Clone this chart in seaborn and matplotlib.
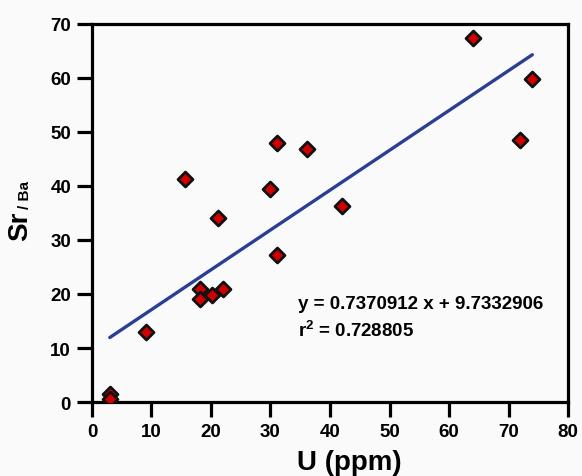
import numpy as np
import pandas as pd
import matplotlib
matplotlib.use("Agg")
import matplotlib.pyplot as plt
import seaborn as sns

# Data
u_ppm = [3, 3, 9, 15.7, 18.2, 18.2, 20.2, 22.0, 21.1, 30.0, 31.1, 31.1, 36.1, 42.0, 64.0, 72.0, 74.0]
sr_ba = [1.4, 0.5, 13.0, 41.3, 21.0, 19.0, 19.9, 21.0, 34.1, 39.5, 47.9, 27.2, 46.8, 36.2, 67.3, 48.5, 59.7]
slope = 0.7370912
intercept = 9.7332906
r2 = 0.728805
x_ticks = [0, 10, 20, 30, 40, 50, 60, 70, 80]
y_ticks = [0, 10, 20, 30, 40, 50, 60, 70]

df = pd.DataFrame({"U": u_ppm, "Sr": sr_ba})

sns.set_theme(style="ticks")
plt.rcParams["font.family"] = ["Liberation Sans", "DejaVu Sans"]
plt.rcParams["mathtext.fontset"] = "custom"
plt.rcParams["mathtext.rm"] = "Liberation Sans:bold"
plt.rcParams["mathtext.bf"] = "Liberation Sans:bold"
plt.rcParams["text.color"] = "black"
plt.rcParams["axes.labelcolor"] = "black"

W, H = 582, 477
bg = "#fafafa"
fig = plt.figure(figsize=(W / 100, H / 100), dpi=100, facecolor=bg)
ax = fig.add_axes([0.158, 0.155, 0.818, 0.793], facecolor=bg)

# regression line from stated coefficients
xl = np.array([min(u_ppm), max(u_ppm)])
line_df = pd.DataFrame({"U": xl, "Sr": slope * xl + intercept})
sns.lineplot(data=line_df, x="U", y="Sr", ax=ax, color="#2a3e96", lw=2.4, zorder=2)

sns.scatterplot(data=df, x="U", y="Sr", ax=ax, marker="D", s=58,
                color="#d10000", edgecolor="#111111", linewidth=2.0, zorder=3)

ax.set_xlim(0, 80)
ax.set_ylim(0, 70)
ax.set_xticks(x_ticks)
ax.set_yticks(y_ticks)
ax.set_xticklabels([str(t) for t in x_ticks], fontsize=13.5, fontweight="bold")
ax.set_yticklabels([str(t) for t in y_ticks], fontsize=13.5, fontweight="bold")
ax.tick_params(axis="both", direction="out", length=11, width=2.3, color="black",
               pad=4, labelcolor="black")
for sp in ax.spines.values():
    sp.set_linewidth(2.3)
    sp.set_color("black")

ax.set_xlabel("U (ppm)", fontsize=20, fontweight="bold", color="black")
ax.xaxis.set_label_coords(0.54, -0.125)
ax.set_ylabel("")

# y label: "Sr" with small "/ Ba"
fig.text(20 / W, 1 - 241 / H, "Sr", rotation=90, fontsize=20, fontweight="bold",
         ha="center", va="bottom", color="black")
fig.text(25 / W, 1 - 209 / H, "/ Ba", rotation=90, fontsize=11, fontweight="bold",
         ha="center", va="bottom", color="black")

ax.text(34.6, 18.2, "y = %.7f x + %.7f" % (slope, intercept), fontsize=13.5,
        fontweight="bold", va="center", ha="left", color="black")
ax.text(34.6, 13.5, r"r$^{\mathregular{2}}$ = %.6f" % r2, fontsize=13.5,
        fontweight="bold", va="center", ha="left", color="black")

fig.savefig("out.png", dpi=100, facecolor=bg)
